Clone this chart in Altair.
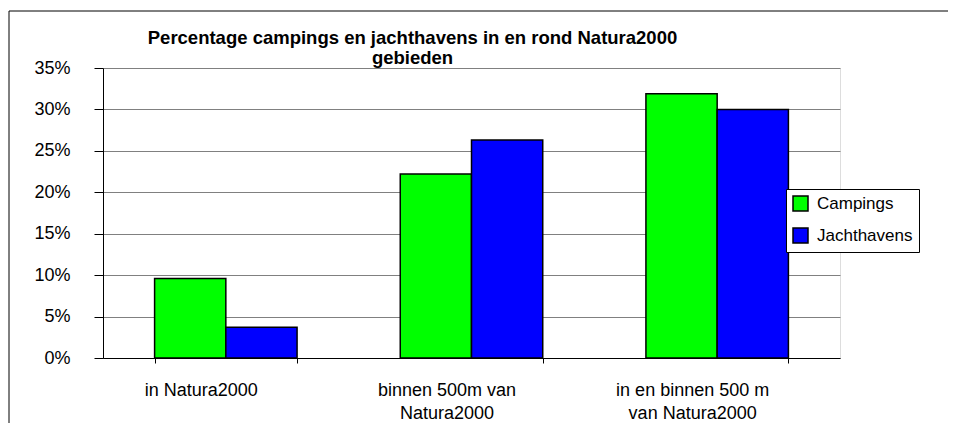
import altair as alt
import pandas as pd

categories = ["in Natura2000", "binnen 500m van|Natura2000", "in en binnen 500 m|van Natura2000"]
series = ["Campings", "Jachthavens"]
campings = [0.096, 0.222, 0.319]
jachthavens = [0.037, 0.263, 0.300]
colors = ["#00FF00", "#0000FF"]
title_lines = ["Percentage campings en jachthavens in en rond Natura2000", "gebieden"]

rows = []
for i, c in enumerate(categories):
    rows.append({"cat": c, "serie": series[0], "val": campings[i]})
    rows.append({"cat": c, "serie": series[1], "val": jachthavens[i]})
df = pd.DataFrame(rows)

FONT = "Liberation Sans"

bars = alt.Chart(df).mark_bar(stroke="black", strokeWidth=1.5).encode(
    x=alt.X("cat:N", sort=categories, title=None,
            scale=alt.Scale(paddingInner=0.42, paddingOuter=0.21),
            axis=alt.Axis(labelExpr="split(datum.label, '|')", labelAngle=0,
                          labelFont=FONT, labelFontSize=18, labelColor="black",
                          labelLineHeight=23, labelPadding=18, labelOffset=-25,
                          tickBand="extent", tickSize=5, tickColor="black",
                          domainColor="black", grid=False)),
    xOffset=alt.XOffset("serie:N", sort=series,
                        scale=alt.Scale(paddingInner=0, paddingOuter=0)),
    y=alt.Y("val:Q", title=None,
            scale=alt.Scale(domain=[0, 0.35], nice=False),
            axis=alt.Axis(format=".0%", values=[0, 0.05, 0.1, 0.15, 0.2, 0.25, 0.3, 0.35],
                          labelFont=FONT, labelFontSize=18, labelColor="black",
                          labelPadding=24, tickSize=9, tickColor="black",
                          domainColor="black", gridColor="#808080", gridOpacity=1)),
    color=alt.Color("serie:N", sort=series,
                    scale=alt.Scale(domain=series, range=colors),
                    legend=alt.Legend(title=None, orient="none", legendX=683, legendY=121,
                                      symbolType="square", symbolSize=225,
                                      symbolStrokeColor="black", symbolStrokeWidth=1.5,
                                      labelFont=FONT, labelFontSize=17, labelColor="black",
                                      labelOffset=8, rowPadding=11, padding=6,
                                      strokeColor="black", fillColor="white")),
)

frame_src = alt.Data(values=[{"k": 1}])
frame_top = alt.Chart(frame_src).mark_rule(color="black", strokeWidth=1).encode(
    x=alt.value(-94), x2=alt.value(1000), y=alt.value(-57))
frame_left = alt.Chart(frame_src).mark_rule(color="black", strokeWidth=1).encode(
    x=alt.value(-94), y=alt.value(-57), y2=alt.value(600))

chart = alt.layer(frame_top, frame_left, bars).properties(
    width=737, height=290,
    padding={"left": 95, "top": 60, "right": 108, "bottom": 65},
    autosize=alt.AutoSizeParams(type="none"),
    title=alt.TitleParams(text=title_lines, font=FONT, fontSize=18.5, fontWeight="bold",
                          color="black", anchor="middle", frame="group", dx=-59,
                          baseline="top", offset=-57, lineHeight=20),
).configure_view(stroke="#808080", strokeWidth=1).configure(background="white")

chart.save("out.html", embed_options={"renderer": "svg", "actions": False})
